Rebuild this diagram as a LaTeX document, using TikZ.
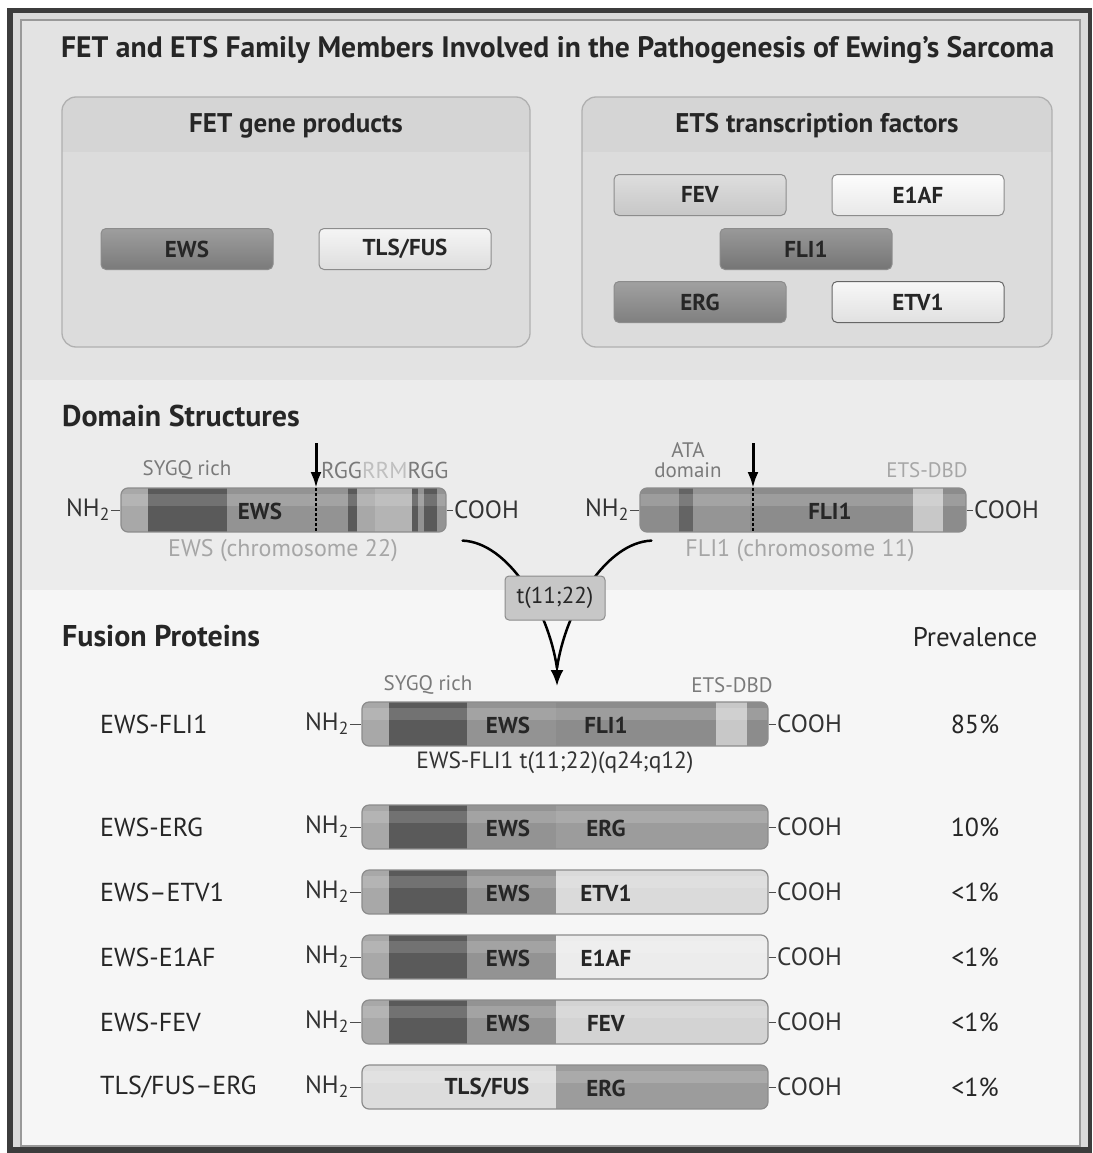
\documentclass[tikz,border=0pt]{standalone}
\usepackage{fontspec}
\setmainfont{PT Sans}
\usetikzlibrary{positioning}
\usetikzlibrary{arrows.meta}

\newcommand{\pxfont}[1]{\fontsize{#1}{#1}\selectfont}

\definecolor{framegray}{HTML}{3C3C3C}
\definecolor{bandgray}{HTML}{DADADA}
\definecolor{topback}{HTML}{E3E3E3}
\definecolor{domainback}{HTML}{ECECEC}
\definecolor{fusionback}{HTML}{F6F6F6}
\definecolor{panelhead}{HTML}{D5D5D5}
\definecolor{panelline}{HTML}{B0B0B0}
\definecolor{darkseg}{HTML}{5A5A5A}
\definecolor{ewsmid}{HTML}{939393}
\definecolor{lightseg}{HTML}{A8A8A8}
\definecolor{paleseg}{HTML}{C8C8C8}
\definecolor{flimid}{HTML}{8C8C8C}
\definecolor{ergmid}{HTML}{9C9C9C}
\definecolor{etvpale}{HTML}{DADADA}
\definecolor{eafpale}{HTML}{ECECEC}
\definecolor{fevpale}{HTML}{D3D3D3}
\definecolor{tlspale}{HTML}{DCDCDC}
\definecolor{labelgray}{HTML}{7A7A7A}
\definecolor{faintgray}{HTML}{A6A6A6}

\tikzset{
  panel/.style={draw=panelline, line width=1.3pt, rounded corners=14pt},
  genebox/.style={draw=black!45, line width=1pt, rounded corners=5pt, minimum width=172pt,
    minimum height=41pt, inner sep=0pt, font=\bfseries\pxfont{23}, text=black!85},
  bar/.style={draw=black!45, line width=1.2pt, rounded corners=7pt, minimum height=44pt, inner sep=0pt},
  bartext/.style={font=\bfseries\pxfont{23}, text=black!85},
  tag/.style={font=\pxfont{21}, text=labelgray},
  ends/.style={font=\pxfont{25}, text=black!80, inner sep=1pt},
  rowname/.style={font=\pxfont{26}, text=black!85, anchor=west, inner sep=0pt},
  heading/.style={font=\bfseries\pxfont{30}, text=black!85, anchor=west, inner sep=0pt},
  breakarrow/.style={line width=3pt, -{Latex[length=16pt,width=11pt]}},
  joinline/.style={line width=2.5pt, line cap=round}
}

\begin{document}
\begin{tikzpicture}[x=1pt, y=-1pt]
  \useasboundingbox (0,0) rectangle (1092,1153);
  % frame and section backgrounds
  \fill[white] (0,0) rectangle (1092,1153);
  \fill[framegray] (7,8) rectangle (1092,1153);
  \fill[bandgray] (13,13) rectangle (1088,1147);
  \fill[topback] (21,20) rectangle (1080,380);
  \fill[domainback] (21,380) rectangle (1080,590);
  \fill[fusionback] (21,590) rectangle (1080,1146);
  \draw[black!40, line width=1.2pt] (21,20) rectangle (1080,1146);

  \node[font=\bfseries\pxfont{29.6}, text=black!85, anchor=west, inner sep=0pt] (title) at (61,50)
    {FET and ETS Family Members Involved in the Pathogenesis of Ewing’s Sarcoma};

  % FET panel
  \begin{scope}
    \clip[rounded corners=14pt] (62,97) rectangle (530,347);
    \fill[topback!97!black] (62,97) rectangle (530,347);
    \fill[panelhead] (62,97) rectangle (530,152);
  \end{scope}
  \draw[panel] (62,97) rectangle (530,347);
  \node[font=\bfseries\pxfont{27}, text=black!85] (fethead) at (296,126) {FET gene products};
  \node[genebox, top color=black!38, bottom color=black!52] (ews) at (187,249) {EWS};
  \node[genebox, top color=black!4, bottom color=black!13] (tls) at (405,249) {TLS/FUS};

  % ETS panel
  \begin{scope}
    \clip[rounded corners=14pt] (582,97) rectangle (1052,347);
    \fill[topback!97!black] (582,97) rectangle (1052,347);
    \fill[panelhead] (582,97) rectangle (1052,152);
  \end{scope}
  \draw[panel] (582,97) rectangle (1052,347);
  \node[font=\bfseries\pxfont{27}, text=black!85] (etshead) at (817,126) {ETS transcription factors};
  \node[genebox, top color=black!13, bottom color=black!22] (fev) at (700,195) {FEV};
  \node[genebox, top color=black!1, bottom color=black!9] (eiaf) at (918,195) {E1AF};
  \node[genebox, top color=black!40, bottom color=black!54] (fli) at (806,249) {FLI1};
  \node[genebox, top color=black!37, bottom color=black!50] (erg) at (700,302) {ERG};
  \node[genebox, draw=black!60, top color=black!3, bottom color=black!12] (etv) at (918,302) {ETV1};

  % domain structures
  \node[heading] (domhead) at (62,416) {Domain Structures};

  \begin{scope}
    \clip[rounded corners=7pt] (121,488) rectangle (446,532);
    \fill[lightseg] (121,488) rectangle (148,532);
    \fill[darkseg] (148,488) rectangle (227,532);
    \fill[ewsmid] (227,488) rectangle (348,532);
    \fill[darkseg] (348,488) rectangle (357,532);
    \fill[lightseg] (357,488) rectangle (375,532);
    \fill[paleseg!90!black] (375,488) rectangle (412,532);
    \fill[darkseg] (412,488) rectangle (418,532);
    \fill[ewsmid] (418,488) rectangle (424,532);
    \fill[darkseg] (424,488) rectangle (437,532);
    \fill[ewsmid] (437,488) rectangle (446,532);
    \fill[white, opacity=.15] (121,494) rectangle (446,506);
  \end{scope}
  \node[bar, minimum width=325pt] (ewsbar) at (283.5,510) {};
  \node[bartext] (ewsname) at (260,511) {EWS};
  \node[ends, anchor=east] (ewsnh) at (111,510) {NH\textsubscript{2}};
  \node[ends, anchor=west] (ewsco) at (453,510) {COOH};
  \draw[black!70, line width=1pt] (ewsnh) -- (ewsbar);
  \draw[black!70, line width=1pt] (ewsbar) -- (ewsco);
  \node[tag] (ewssygq) at (187,470) {SYGQ rich};
  \node[tag, anchor=west, inner sep=0pt, font=\pxfont{23}] (ewsrgg) at (321,470) {RGG\textcolor{black!25}{RRM}RGG};
  \node[font=\pxfont{24}, text=faintgray] (ewschr) at (283,551) {EWS (chromosome 22)};
  \coordinate (ewscut) at (316,443);
  \draw[breakarrow] (ewscut) -- (316,488);
  \draw[black, line width=1.2pt, dash pattern=on 3pt off 2pt] (316,488) -- (316,532);

  \begin{scope}
    \clip[rounded corners=7pt] (640,488) rectangle (966,532);
    \fill[flimid] (640,488) rectangle (679,532);
    \fill[darkseg!80!flimid] (679,488) rectangle (693,532);
    \fill[flimid!92!white] (693,488) rectangle (750,532);
    \fill[flimid] (750,488) rectangle (913,532);
    \fill[paleseg] (913,488) rectangle (943,532);
    \fill[flimid] (943,488) rectangle (966,532);
    \fill[white, opacity=.15] (640,494) rectangle (966,506);
  \end{scope}
  \node[bar, minimum width=326pt] (flibar) at (803,510) {};
  \node[bartext] (fliname) at (830,511) {FLI1};
  \node[ends, anchor=east] (flinh) at (630,510) {NH\textsubscript{2}};
  \node[ends, anchor=west] (flico) at (973,510) {COOH};
  \draw[black!70, line width=1pt] (flinh) -- (flibar);
  \draw[black!70, line width=1pt] (flibar) -- (flico);
  \node[tag, align=center, font=\fontsize{21}{20}\selectfont] (fliata) at (688,460) {ATA\\domain};
  \node[tag, text=faintgray] (flidbd) at (927,470) {ETS-DBD};
  \node[font=\pxfont{24}, text=faintgray] (flichr) at (800,551) {FLI1 (chromosome 11)};
  \coordinate (flicut) at (753,443);
  \draw[breakarrow] (flicut) -- (753,488);
  \draw[black, line width=1.2pt, dash pattern=on 3pt off 2pt] (753,488) -- (753,532);

  % translocation
  \coordinate (merge) at (557,668);
  \coordinate (tip) at (557,686);
  \draw[joinline] ([xshift=16pt,yshift=-8pt]ewsbar.south east) .. controls +(45,2) and +(-9,-60) .. (merge);
  \draw[joinline] ([xshift=12pt,yshift=-8pt]flibar.south west) .. controls +(-45,2) and +(9,-60) .. (merge);
  \draw[line width=2.5pt, -{Latex[length=16pt,width=13pt]}] (merge) -- (tip);
  \node[draw=black!45, line width=1pt, fill=black!22, rounded corners=4pt, minimum width=100pt,
    minimum height=44pt, inner sep=0pt, font=\pxfont{23}, text=black!85] (trans) at (555,598) {t(11;22)};

  % fusion proteins
  \node[heading] (fushead) at (62,636) {Fusion Proteins};
  \node[font=\pxfont{27}, text=black!85] (prevhead) at (975,637) {Prevalence};

  \begin{scope}
    \clip[rounded corners=7pt] (362,702) rectangle (768,746);
    \fill[lightseg] (362,702) rectangle (389,746);
    \fill[darkseg] (389,702) rectangle (467,746);
    \fill[ewsmid] (467,702) rectangle (556,746);
    \fill[flimid] (556,702) rectangle (716,746);
    \fill[paleseg] (716,702) rectangle (747,746);
    \fill[flimid] (747,702) rectangle (768,746);
    \fill[white, opacity=.15] (362,708) rectangle (768,720);
  \end{scope}
  \node[bar, minimum width=406pt] (fus0) at (565,724) {};
  \node[bartext] (ewsin0) at (508,725) {EWS};
  \node[bartext] (partner0) at (606,725) {FLI1};
  \node[rowname] (row0) at (100,724) {EWS-FLI1};
  \node[ends, anchor=east] (nh0) at (350,724) {NH\textsubscript{2}};
  \node[ends, anchor=west] (co0) at (776,724) {COOH};
  \draw[black!70, line width=1pt] (nh0) -- (fus0);
  \draw[black!70, line width=1pt] (fus0) -- (co0);
  \node[font=\pxfont{26}, text=black!85] (prev0) at (975,724) {85\%};
  \node[tag] (sygq0) at (428,685) {SYGQ rich};
  \node[tag] (dbd0) at (732,685) {ETS-DBD};
  \node[font=\pxfont{23.5}, text=black!80] (fusname0) at (555,763) {EWS-FLI1 t(11;22)(q24;q12)};

  \foreach \y/\nm/\pt/\col/\pre [count=\i] in {827/EWS-ERG/ERG/ergmid/10\%,
      892/EWS--ETV1/ETV1/etvpale/<1\%, 957/EWS-E1AF/E1AF/eafpale/<1\%, 1022/EWS-FEV/FEV/fevpale/<1\%}{
    \begin{scope}
      \clip[rounded corners=7pt] (362,\y-22) rectangle (768,\y+22);
      \fill[lightseg] (362,\y-22) rectangle (389,\y+22);
      \fill[darkseg] (389,\y-22) rectangle (467,\y+22);
      \fill[ewsmid] (467,\y-22) rectangle (556,\y+22);
      \fill[\col] (556,\y-22) rectangle (768,\y+22);
      \fill[white, opacity=.15] (362,\y-16) rectangle (768,\y-4);
    \end{scope}
    \node[bar, minimum width=406pt] (fus\i) at (565,\y) {};
    \node[bartext] (ewsin\i) at (508,\y+1) {EWS};
    \node[bartext] (partner\i) at (606,\y+1) {\pt};
    \node[rowname] (row\i) at (100,\y) {\nm};
    \node[ends, anchor=east] (nh\i) at (350,\y) {NH\textsubscript{2}};
    \node[ends, anchor=west] (co\i) at (776,\y) {COOH};
    \draw[black!70, line width=1pt] (nh\i) -- (fus\i);
    \draw[black!70, line width=1pt] (fus\i) -- (co\i);
    \node[font=\pxfont{26}, text=black!85] (prev\i) at (975,\y) {\pre};
  }

  \begin{scope}
    \clip[rounded corners=7pt] (362,1065) rectangle (768,1109);
    \fill[tlspale] (362,1065) rectangle (556,1109);
    \fill[ergmid] (556,1065) rectangle (768,1109);
    \fill[white, opacity=.15] (362,1071) rectangle (768,1083);
  \end{scope}
  \node[bar, minimum width=406pt] (fus5) at (565,1087) {};
  \node[bartext] (tlsin5) at (487,1088) {TLS/FUS};
  \node[bartext] (partner5) at (606,1088) {ERG};
  \node[rowname] (row5) at (100,1087) {TLS/FUS--ERG};
  \node[ends, anchor=east] (nh5) at (350,1087) {NH\textsubscript{2}};
  \node[ends, anchor=west] (co5) at (776,1087) {COOH};
  \draw[black!70, line width=1pt] (nh5) -- (fus5);
  \draw[black!70, line width=1pt] (fus5) -- (co5);
  \node[font=\pxfont{26}, text=black!85] (prev5) at (975,1087) {<1\%};
\end{tikzpicture}
\end{document}
